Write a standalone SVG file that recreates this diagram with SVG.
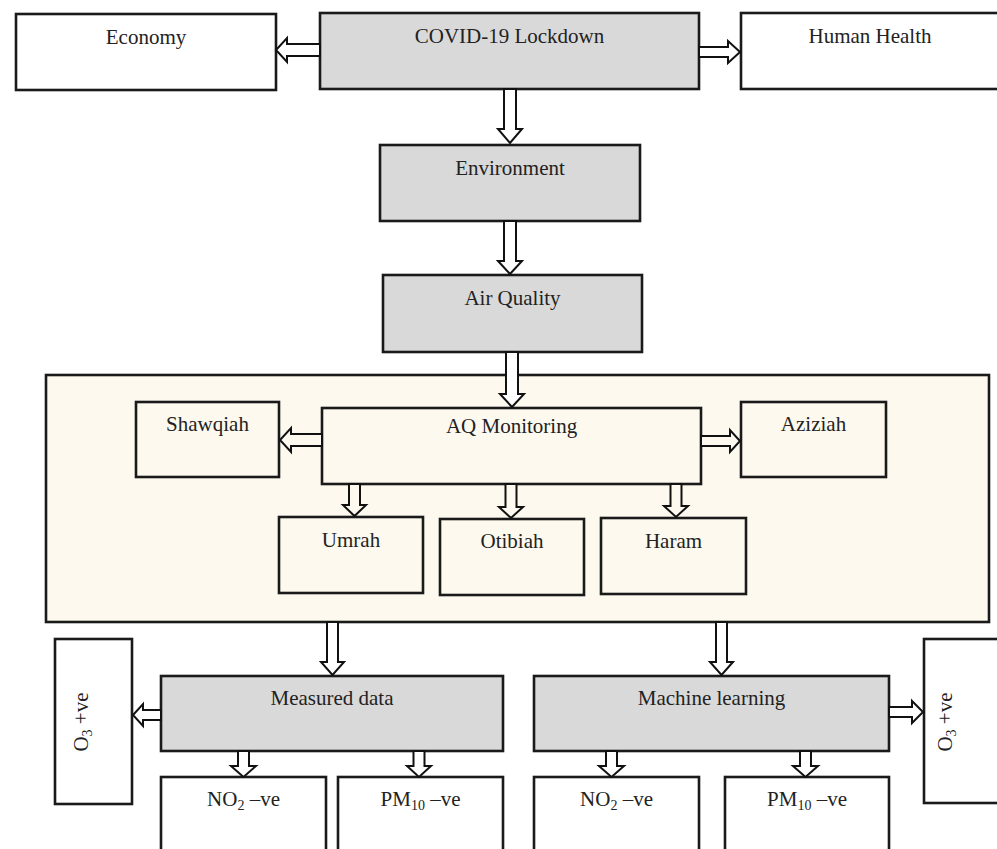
<svg xmlns="http://www.w3.org/2000/svg" width="997" height="849" viewBox="0 0 997 849">
<style>
.box{stroke:#1a1a1a;stroke-width:2.6;}
.g{fill:#d9d9d9;}
.w{fill:#ffffff;}
.c{fill:#fdf9ee;}
.arr{stroke:#111;stroke-width:2;stroke-linejoin:miter;}
.aw{fill:#ffffff;}
.ac{fill:#fdf9ee;}
text{font-family:"Liberation Serif","Times New Roman",serif;font-size:21px;fill:#222;text-anchor:middle;}
.sub{font-size:14px;}
</style>
<rect width="997" height="849" fill="#ffffff"/>

<g id="container">
  <rect class="box c" x="46" y="375" width="943" height="247"/>
</g>

<g id="economy"><rect class="box w" x="16" y="14" width="260" height="76"/><text x="146" y="44">Economy</text></g>
<g id="covid"><rect class="box g" x="320" y="13" width="379" height="76"/><text x="509.5" y="43">COVID-19 Lockdown</text></g>
<g id="human-health"><rect class="box w" x="741" y="13" width="262" height="76"/><text x="870" y="43">Human Health</text></g>
<g id="environment"><rect class="box g" x="380" y="145" width="260" height="76"/><text x="510" y="175">Environment</text></g>
<g id="air-quality"><rect class="box g" x="383" y="275" width="259" height="77"/><text x="512.5" y="305">Air Quality</text></g>

<g id="shawqiah"><rect class="box c" x="136" y="402" width="143" height="75"/><text x="207.5" y="431">Shawqiah</text></g>
<g id="aq-monitoring"><rect class="box c" x="322" y="408" width="379" height="76"/><text x="511.5" y="433">AQ Monitoring</text></g>
<g id="aziziah"><rect class="box c" x="741" y="402" width="145" height="75"/><text x="813.5" y="431">Aziziah</text></g>
<g id="umrah"><rect class="box c" x="279" y="517" width="144" height="76"/><text x="351" y="547">Umrah</text></g>
<g id="otibiah"><rect class="box c" x="440" y="519" width="144" height="76"/><text x="512" y="548">Otibiah</text></g>
<g id="haram"><rect class="box c" x="601" y="518" width="145" height="76"/><text x="673.5" y="548">Haram</text></g>

<g id="o3-left"><rect class="box w" x="55" y="639" width="77" height="165"/><text transform="translate(88,722) rotate(-90)">O<tspan class="sub" dy="4">3</tspan><tspan dy="-4"> +ve</tspan></text></g>
<g id="measured-data"><rect class="box g" x="161" y="676" width="342" height="75"/><text x="332" y="705">Measured data</text></g>
<g id="machine-learning"><rect class="box g" x="534" y="676" width="355" height="75"/><text x="711.5" y="705">Machine learning</text></g>
<g id="o3-right"><rect class="box w" x="924" y="639" width="80" height="164"/><text transform="translate(952,722) rotate(-90)">O<tspan class="sub" dy="4">3</tspan><tspan dy="-4"> +ve</tspan></text></g>

<g id="no2-left"><rect class="box w" x="161" y="777" width="165" height="90"/><text x="243.5" y="806">NO<tspan class="sub" dy="4">2</tspan><tspan dy="-4"> –ve</tspan></text></g>
<g id="pm10-left"><rect class="box w" x="338" y="777" width="165" height="90"/><text x="420.5" y="806">PM<tspan class="sub" dy="4">10</tspan><tspan dy="-4"> –ve</tspan></text></g>
<g id="no2-right"><rect class="box w" x="534" y="777" width="165" height="90"/><text x="616.5" y="806">NO<tspan class="sub" dy="4">2</tspan><tspan dy="-4"> –ve</tspan></text></g>
<g id="pm10-right"><rect class="box w" x="725" y="777" width="164" height="90"/><text x="807" y="806">PM<tspan class="sub" dy="4">10</tspan><tspan dy="-4"> –ve</tspan></text></g>

<g id="connectors">
  <!-- horizontal left arrows -->
  <polygon class="arr aw" points="320,44 287,44 287,38 276,50 287,62 287,56 320,56"/>
  <polygon class="arr ac" points="322,434 291,434 291,428 280,440 291,452 291,446 322,446"/>
  <polygon class="arr aw" points="161,710 143,710 143,704 133,715 143,726 143,720 161,720"/>
  <!-- horizontal right arrows -->
  <polygon class="arr aw" points="699,47 728,47 728,41 740,52 728,63 728,57 699,57"/>
  <polygon class="arr ac" points="701,436 730,436 730,430 740,441 730,452 730,446 701,446"/>
  <polygon class="arr aw" points="889,707 912,707 912,701 923,712 912,723 912,717 889,717"/>
  <!-- vertical down arrows -->
  <polygon class="arr aw" points="504,89 516,89 516,129 522,129 510,143 498,129 504,129"/>
  <polygon class="arr aw" points="504,221 516,221 516,261 522,261 510,274 498,261 504,261"/>
  <polygon class="arr aw" points="506,352 518,352 518,394 524,394 512,407 500,394 506,394"/>
  <polygon class="arr ac" points="349,484 360,484 360,505 366,505 354.5,516 343,505 349,505"/>
  <polygon class="arr ac" points="505.5,484 516.5,484 516.5,507 523,507 511,518 499,507 505.5,507"/>
  <polygon class="arr ac" points="670.5,484 681.5,484 681.5,506 688,506 676,517 664,506 670.5,506"/>
  <polygon class="arr aw" points="327,622 338,622 338,662 344,662 332.5,675 321,662 327,662"/>
  <polygon class="arr aw" points="716,622 727,622 727,662 733,662 721.5,675 710,662 716,662"/>
  <polygon class="arr aw" points="238,751 249,751 249,766 256,766 243.5,777 231,766 238,766"/>
  <polygon class="arr aw" points="413.5,751 424.5,751 424.5,766 431,766 419,777 407,766 413.5,766"/>
  <polygon class="arr aw" points="606,751 617,751 617,766 624,766 611.5,777 599,766 606,766"/>
  <polygon class="arr aw" points="800,751 811,751 811,766 818,766 805.5,777 793,766 800,766"/>
</g>
</svg>
